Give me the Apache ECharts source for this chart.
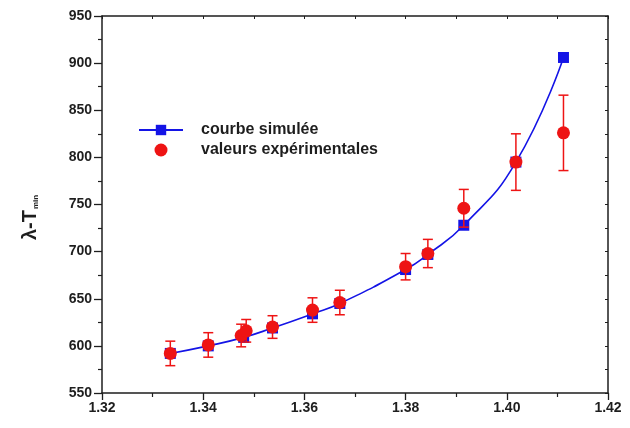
<!DOCTYPE html>
<html>
<head>
<meta charset="utf-8">
<script src="https://cdn.jsdelivr.net/npm/echarts@6/dist/echarts.min.js"></script>
<style>
  html, body { margin: 0; padding: 0; background: #fff; }
  #chart { width: 630px; height: 428px; }
</style>
</head>
<body>
<div id="chart"></div>
<script>
// Simulated curve (blue squares joined by a smooth line)
const simX = [1.3335, 1.341, 1.348, 1.3537, 1.3616, 1.367, 1.380, 1.3844, 1.3915, 1.4018, 1.4112];
const simY = [592, 600, 609, 619, 634, 645, 681, 697, 728, 795, 906];

// Experimental values with their error bars (red)
const expX = [1.3335, 1.341, 1.3475, 1.3485, 1.3537, 1.3616, 1.367, 1.380, 1.3844, 1.3915, 1.4018, 1.4112];
const expY = [592, 601, 611, 616, 620, 638, 646, 684, 698, 746, 795, 826];
const expErr = [13, 13, 12, 12, 12, 13, 13, 14, 15, 20, 30, 40];

// Axis ranges and tick labels
const xTicks = ['1.32', '1.34', '1.36', '1.38', '1.40', '1.42'];
const yTicks = ['550', '600', '650', '700', '750', '800', '850', '900', '950'];

const names = ['courbe simulée', 'valeurs expérimentales'];

const BLUE = '#1414e6';
const RED = '#ee1414';
const INK = '#1e1e1e';

const simData = simX.map((x, i) => [x, simY[i]]);
const expData = expX.map((x, i) => [x, expY[i]]);
const errData = expX.map((x, i) => [x, expY[i] - expErr[i], expY[i] + expErr[i]]);

const labelFont = { fontFamily: 'Liberation Sans', fontWeight: 'bold', fontSize: 14, color: INK };

const chart = echarts.init(document.getElementById('chart'), null, { renderer: 'canvas' });

chart.setOption({
  animation: false,
  backgroundColor: '#fff',
  grid: { left: 102, right: 22, top: 16, bottom: 35 },
  legend: {
    orient: 'vertical',
    left: 133,
    top: 117,
    itemWidth: 44,
    itemHeight: 13,
    itemGap: 4,
    data: names,
    textStyle: {
      fontFamily: 'Liberation Sans', fontWeight: 'bold', fontSize: 16, color: INK,
      padding: [0, 0, 0, 13]
    }
  },
  xAxis: [{
    type: 'value',
    min: Number(xTicks[0]),
    max: Number(xTicks[xTicks.length - 1]),
    interval: 0.02,
    axisLine: { onZero: false, lineStyle: { color: INK, width: 1.5 } },
    axisTick: { inside: false, length: 7, lineStyle: { color: INK, width: 1.3 } },
    minorTick: { show: true, splitNumber: 2, length: 4, lineStyle: { color: INK, width: 1.2 } },
    splitLine: { show: false },
    axisLabel: Object.assign({ margin: 8, formatter: v => v.toFixed(2) }, labelFont)
  }, {
    type: 'value',
    position: 'top',
    min: Number(xTicks[0]),
    max: Number(xTicks[xTicks.length - 1]),
    interval: 0.01,
    axisLine: { onZero: false, lineStyle: { color: INK, width: 1.5 } },
    axisTick: { inside: true, length: 3, lineStyle: { color: INK, width: 1 } },
    axisLabel: { show: false },
    splitLine: { show: false }
  }],
  yAxis: [{
    type: 'value',
    min: Number(yTicks[0]),
    max: Number(yTicks[yTicks.length - 1]),
    interval: 50,
    name: '{a|λ-T}{b|min}',
    nameLocation: 'middle',
    nameRotate: 90,
    nameGap: 62,
    nameTextStyle: {
      rich: {
        a: { fontFamily: 'Liberation Sans', fontWeight: 'bold', fontSize: 20, color: INK },
        b: { fontFamily: 'Liberation Sans', fontWeight: 'bold', fontSize: 8, color: INK, padding: [12, 26, 0, 1] }
      }
    },
    axisLine: { onZero: false, lineStyle: { color: INK, width: 1.5 } },
    axisTick: { inside: false, length: 8, lineStyle: { color: INK, width: 1.3 } },
    minorTick: { show: true, splitNumber: 2, length: 4, lineStyle: { color: INK, width: 1.2 } },
    splitLine: { show: false },
    axisLabel: Object.assign({ margin: 10 }, labelFont)
  }, {
    type: 'value',
    position: 'right',
    min: Number(yTicks[0]),
    max: Number(yTicks[yTicks.length - 1]),
    interval: 25,
    axisLine: { onZero: false, lineStyle: { color: INK, width: 1.5 } },
    axisTick: { inside: true, length: 3, lineStyle: { color: INK, width: 1 } },
    axisLabel: { show: false },
    splitLine: { show: false }
  }],
  series: [
    {
      name: names[0],
      type: 'line',
      data: simData,
      smooth: 0.5,
      symbol: 'rect',
      symbolSize: 11,
      itemStyle: { color: BLUE },
      lineStyle: { color: BLUE, width: 1.6 },
      z: 2
    },
    {
      name: 'err',
      type: 'custom',
      data: errData,
      z: 3,
      renderItem: function (params, api) {
        const x = api.value(0);
        const lo = api.coord([x, api.value(1)]);
        const hi = api.coord([x, api.value(2)]);
        const cap = 5;
        const style = { stroke: RED, lineWidth: 1.5, fill: null };
        return {
          type: 'group',
          children: [
            { type: 'line', shape: { x1: lo[0], y1: lo[1], x2: hi[0], y2: hi[1] }, style: style },
            { type: 'line', shape: { x1: lo[0] - cap, y1: lo[1], x2: lo[0] + cap, y2: lo[1] }, style: style },
            { type: 'line', shape: { x1: hi[0] - cap, y1: hi[1], x2: hi[0] + cap, y2: hi[1] }, style: style }
          ]
        };
      }
    },
    {
      name: names[1],
      type: 'scatter',
      data: expData,
      symbol: 'circle',
      symbolSize: 13,
      itemStyle: { color: RED, opacity: 1 },
      z: 4
    }
  ]
});
</script>
</body>
</html>
